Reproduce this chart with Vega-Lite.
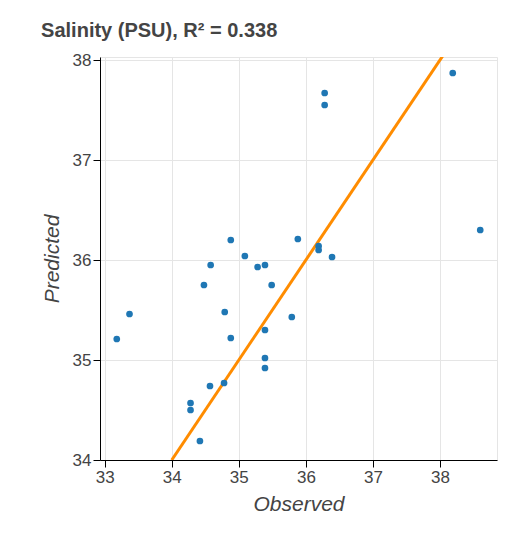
{
"$schema":"https://vega.github.io/schema/vega-lite/v6.json",
"width":397,"height":403,
"autosize":"none",
"padding":{"left":100,"top":57,"right":11,"bottom":84},
"title":{"text":"Salinity (PSU), R² = 0.338","anchor":"start","fontSize":20,"font":"Liberation Sans","fontWeight":"bold","color":"#444444","offset":10},
"config":{"view":{"stroke":"#e5e5e5"},"axis":{"labelFont":"Liberation Sans","labelFontSize":17,"labelColor":"#444444","titleFont":"Liberation Sans","titleFontSize":21,"titleFontStyle":"italic","titleFontWeight":"normal","titleColor":"#444444","gridColor":"#e5e5e5","domainColor":"#000","tickColor":"#000","tickSize":7,"format":"d"}},
"datasets":{"pts":[
{"o":33.18,"p":35.21},{"o":33.37,"p":35.46},{"o":34.28,"p":34.57},{"o":34.28,"p":34.5},{"o":34.42,"p":34.19},{"o":34.57,"p":34.74},{"o":34.78,"p":34.77},{"o":34.48,"p":35.75},{"o":34.58,"p":35.95},{"o":34.88,"p":36.2},{"o":34.79,"p":35.48},{"o":34.88,"p":35.22},{"o":35.09,"p":36.04},{"o":35.28,"p":35.93},{"o":35.39,"p":35.95},{"o":35.39,"p":35.3},{"o":35.39,"p":35.02},{"o":35.39,"p":34.92},{"o":35.49,"p":35.75},{"o":35.79,"p":35.43},{"o":35.88,"p":36.21},{"o":36.19,"p":36.14},{"o":36.19,"p":36.1},{"o":36.39,"p":36.03},{"o":36.28,"p":37.67},{"o":36.28,"p":37.55},{"o":38.19,"p":37.87},{"o":38.6,"p":36.3}],
"line":[{"o":34,"p":34},{"o":38.1,"p":38.1}]},
"layer":[
{"data":{"name":"line"},"mark":{"type":"line","color":"darkorange","strokeWidth":3,"clip":true},
"encoding":{"x":{"field":"o","type":"quantitative","scale":{"domain":[32.93,38.85],"nice":false,"zero":false},"axis":{"title":"Observed","values":[33,34,35,36,37,38],"titlePadding":8}},
"y":{"field":"p","type":"quantitative","scale":{"domain":[34,38.03],"nice":false,"zero":false},"axis":{"title":"Predicted","values":[34,35,36,37,38],"titlePadding":10}}}},
{"data":{"name":"pts"},"mark":{"type":"circle","size":45,"color":"#1f77b4","opacity":1},
"encoding":{"x":{"field":"o","type":"quantitative"},"y":{"field":"p","type":"quantitative"}}}
]}
